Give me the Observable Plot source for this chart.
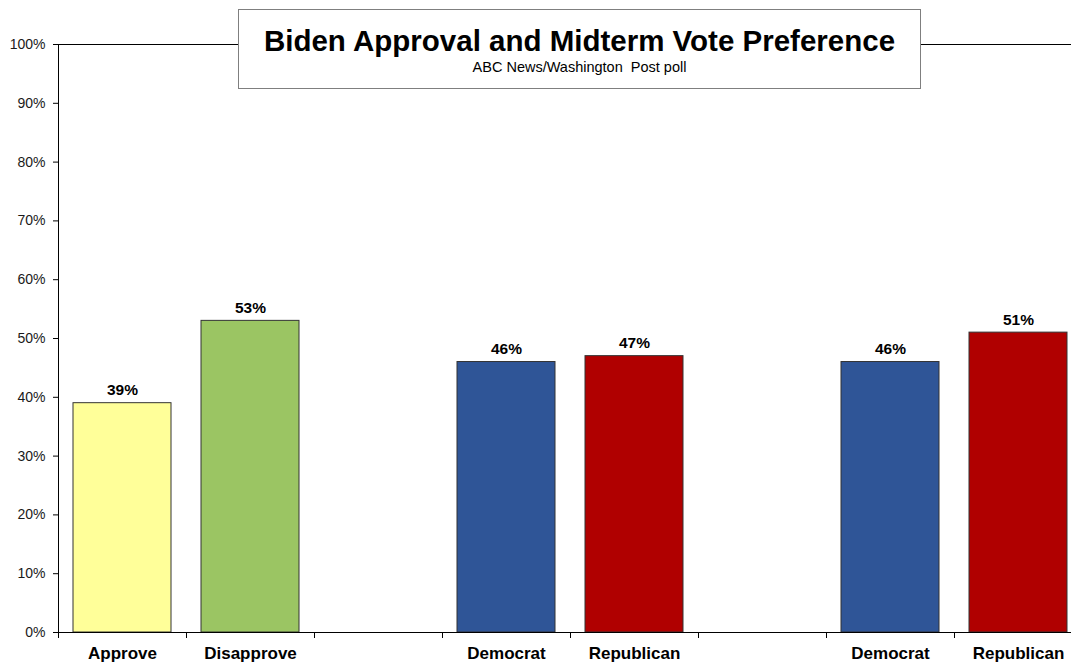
<!DOCTYPE html>
<html>
<head>
<meta charset="utf-8">
<script src="https://cdn.jsdelivr.net/npm/d3@7"></script>
<script src="https://cdn.jsdelivr.net/npm/@observablehq/plot@0.6"></script>
<style>
  html, body { margin: 0; padding: 0; background: #fff; overflow: hidden; }
  #wrap { position: relative; width: 1071px; height: 664px; font-family: "Liberation Sans", Arial, sans-serif; }
  #chart { position: absolute; left: 0; top: 0; }
  #titlebox {
    position: absolute; left: 238px; top: 9px; width: 681px; height: 78px;
    border: 1px solid #7f7f7f; background: #fff; text-align: center; z-index: 2;
  }
  #title { font-size: 29.5px; font-weight: bold; color: #000; margin-top: 14px; line-height: 33px; }
  #subtitle { font-family: "Liberation Sans Narrow", "Arial Narrow", "Liberation Sans", Arial, sans-serif; font-size: 14.5px; color: #000; line-height: 16px; margin-top: 2px; }
</style>
</head>
<body>
<div id="wrap">
  <div id="chart"></div>
  <div id="titlebox">
    <div id="title">Biden Approval and Midterm Vote Preference</div>
    <div id="subtitle">ABC News/Washington&nbsp; Post poll</div>
  </div>
</div>
<script>
const categories = ["Approve", "Disapprove", "", "Democrat", "Republican", "", "Democrat", "Republican"];
const values = [39, 53, null, 46, 47, null, 46, 51];
const yTicks = [0, 10, 20, 30, 40, 50, 60, 70, 80, 90, 100];
const seriesNames = ["Approve", "Disapprove", "Democrat", "Republican"];
const seriesColors = ["#FFFF99", "#9BC563", "#2F5597", "#B00000"];

const slots = categories.map((c, i) => ({i, category: c, value: values[i]}));
const bars = slots.filter(d => d.value != null);
const boundaries = d3.range(categories.length);

const chart = Plot.plot({
  width: 1071,
  height: 664,
  marginTop: 44,
  marginBottom: 32,
  marginLeft: 58,
  marginRight: 0,
  style: {fontFamily: "Liberation Sans, Arial, sans-serif", background: "transparent", overflow: "visible"},
  x: {type: "linear", domain: [0, categories.length], range: [58, 58 + 128 * categories.length]},
  y: {domain: [0, 100]},
  color: {type: "ordinal", domain: seriesNames, range: seriesColors},
  marks: [
    Plot.ruleY([100], {stroke: "#000", strokeWidth: 1}),
    Plot.rectY(bars, {
      x1: d => d.i, x2: d => d.i + 1, y1: 0, y2: "value", fill: "category",
      insetLeft: 15, insetRight: 15, stroke: "#333", strokeWidth: 1
    }),
    Plot.ruleY([0], {stroke: "#000", strokeWidth: 1}),
    Plot.ruleX([0], {y1: 0, y2: 100, stroke: "#000", strokeWidth: 1}),
    Plot.axisY({
      ticks: yTicks, tickFormat: d => d + "%", tickSize: 5, tickPadding: 8,
      fontSize: 14, fill: "#1a1a1a", label: null, stroke: "#000"
    }),
    Plot.axisX({ticks: boundaries, tickFormat: () => "", tickSize: 6, label: null, stroke: "#000"}),
    Plot.text(bars, {
      x: d => d.i + 0.5, y: "value", text: d => d.value + "%",
      lineAnchor: "bottom", dy: -8, fontSize: 15.5, fontWeight: "bold", fill: "#000"
    }),
    Plot.text(slots.filter(d => d.category), {
      x: d => d.i + 0.5, y: 0, text: "category",
      dy: 21, fontSize: 17, fontWeight: "bold", fill: "#000"
    })
  ]
});
document.getElementById("chart").appendChild(chart);
</script>
</body>
</html>
